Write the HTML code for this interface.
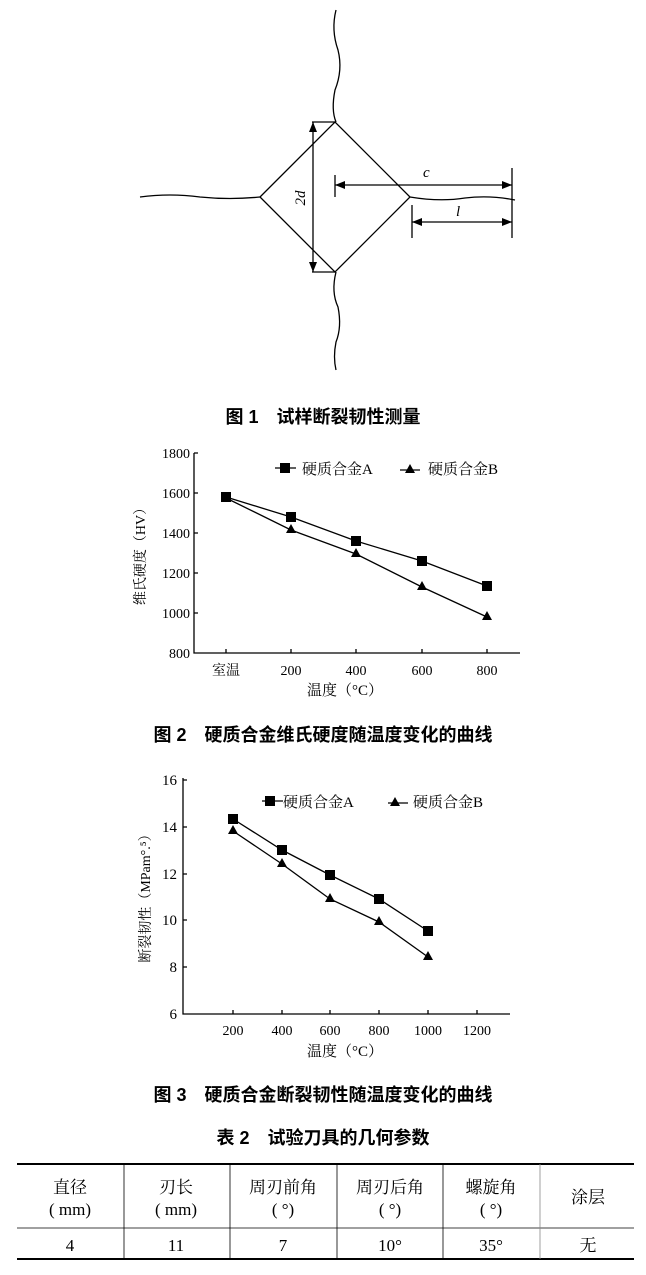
<!DOCTYPE html><html><head><meta charset="utf-8"><style>
body{margin:0;background:#fff;width:646px;height:1270px;overflow:hidden}
svg text{font-family:"Liberation Serif","Noto Serif CJK SC",serif;fill:#000}
.cap{font-family:"Liberation Sans","Noto Sans CJK SC",sans-serif;font-weight:bold;font-size:18px}
</style></head><body>
<svg width="646" height="1270" viewBox="0 0 646 1270" xmlns="http://www.w3.org/2000/svg">
<g fill="none" stroke="#000" stroke-width="1.3">
<path d="M336,10 q-5,20 2,40 q5,20 -3,40 q-4,20 1,32"/>
<path d="M336,272 q-5,20 2,35 q4,20 -2,35 q-3,15 0,28"/>
<path d="M140,197 q30,-4 60,0 q30,3 60,0"/>
<path d="M410,197 q30,5 55,1 q25,-3 50,2"/>
<path d="M260,197 L335,122 L410,197 L335,272 Z"/>
<path d="M312,122 H335 M312,272 H335 M313,122 V272"/>
<path d="M512,168 V238 M412,205 V238 M335,175 V197"/>
<path d="M335,185 H512 M412,222 H512"/>
</g>
<g fill="#000">
<path d="M313,122 l-4,10 h8z M313,272 l-4,-10 h8z M335,185 l10,-4 v8z M512,185 l-10,-4 v8z M412,222 l10,-4 v8z M512,222 l-10,-4 v8z"/>
</g>
<text x="305" y="198" font-size="15" font-style="italic" transform="rotate(-90 305 198)" text-anchor="middle">2d</text>
<text x="423" y="177" font-size="15" font-style="italic">c</text>
<text x="456" y="216" font-size="15" font-style="italic">l</text>
<text x="323" y="423" class="cap" text-anchor="middle">图 1　试样断裂韧性测量</text>

<!-- chart 2 -->
<g stroke="#000" stroke-width="1.3" fill="none">
<path d="M194,453 V653 H520"/>
<path d="M194,453 h4 M194,493 h4 M194,533 h4 M194,573 h4 M194,613 h4 M226,653 v-4 M291,653 v-4 M356,653 v-4 M422,653 v-4 M487,653 v-4"/>
<polyline points="226,497 291,517 356,541 422,561 487,586"/>
<polyline points="226,498 291,530 356,554 422,587 487,617"/>
<path d="M275,468 H296 M400,470 H420"/>
</g>
<g font-size="14" text-anchor="end"><text x="190" y="458">1800</text><text x="190" y="498">1600</text><text x="190" y="538">1400</text><text x="190" y="578">1200</text><text x="190" y="618">1000</text><text x="190" y="658">800</text></g>
<g font-size="14" text-anchor="middle"><text x="226" y="675">室温</text><text x="291" y="675">200</text><text x="356" y="675">400</text><text x="422" y="675">600</text><text x="487" y="675">800</text></g>
<text x="345" y="695" font-size="15" text-anchor="middle">温度（°C）</text>
<text x="145" y="553" font-size="14" text-anchor="middle" transform="rotate(-90 145 553)">维氏硬度（HV）</text>
<g fill="#000">
<rect x="221" y="492" width="10" height="10"/><rect x="286" y="512" width="10" height="10"/><rect x="351" y="536" width="10" height="10"/><rect x="417" y="556" width="10" height="10"/><rect x="482" y="581" width="10" height="10"/>
<path d="M226,492 l5,9 h-10z M291,524 l5,9 h-10z M356,548 l5,9 h-10z M422,581 l5,9 h-10z M487,611 l5,9 h-10z"/>
<rect x="280" y="463" width="10" height="10"/><path d="M410,464 l5,9 h-10z"/>
</g>
<text x="302" y="474" font-size="15">硬质合金A</text><text x="428" y="474" font-size="15">硬质合金B</text>
<text x="323" y="741" class="cap" text-anchor="middle">图 2　硬质合金维氏硬度随温度变化的曲线</text>

<!-- chart 3 -->
<g stroke="#000" stroke-width="1.3" fill="none">
<path d="M183,778 V1014 H510"/>
<path d="M183,780 h4 M183,827 h4 M183,874 h4 M183,920 h4 M183,967 h4 M233,1014 v-4 M282,1014 v-4 M330,1014 v-4 M379,1014 v-4 M428,1014 v-4 M477,1014 v-4"/>
<polyline points="233,819 282,850 330,875 379,899 428,931"/>
<polyline points="233,831 282,864 330,899 379,922 428,957"/>
<path d="M262,801 H283 M388,803 H408"/>
</g>
<g font-size="15" text-anchor="end"><text x="177" y="785">16</text><text x="177" y="832">14</text><text x="177" y="879">12</text><text x="177" y="925">10</text><text x="177" y="972">8</text><text x="177" y="1019">6</text></g>
<g font-size="14" text-anchor="middle"><text x="233" y="1035">200</text><text x="282" y="1035">400</text><text x="330" y="1035">600</text><text x="379" y="1035">800</text><text x="428" y="1035">1000</text><text x="477" y="1035">1200</text></g>
<text x="345" y="1056" font-size="15" text-anchor="middle">温度（°C）</text>
<text x="150" y="895" font-size="14" text-anchor="middle" transform="rotate(-90 150 895)">断裂韧性（MPam°.⁵）</text>
<g fill="#000">
<rect x="228" y="814" width="10" height="10"/><rect x="277" y="845" width="10" height="10"/><rect x="325" y="870" width="10" height="10"/><rect x="374" y="894" width="10" height="10"/><rect x="423" y="926" width="10" height="10"/>
<path d="M233,825 l5,9 h-10z M282,858 l5,9 h-10z M330,893 l5,9 h-10z M379,916 l5,9 h-10z M428,951 l5,9 h-10z"/>
<rect x="265" y="796" width="10" height="10"/><path d="M395,797 l5,9 h-10z"/>
</g>
<text x="283" y="807" font-size="15">硬质合金A</text><text x="413" y="807" font-size="15">硬质合金B</text>
<text x="323" y="1101" class="cap" text-anchor="middle">图 3　硬质合金断裂韧性随温度变化的曲线</text>

<!-- table -->
<text x="323" y="1144" class="cap" text-anchor="middle">表 2　试验刀具的几何参数</text>
<g stroke="#000" fill="none">
<path d="M17,1164 H634 M17,1259 H634" stroke-width="2"/>
<path d="M17,1228 H634" stroke-width="0.8"/>
<path d="M124,1164 V1259 M230,1164 V1259 M337,1164 V1259 M443,1164 V1259" stroke-width="0.8"/>
<path d="M540,1164 V1259" stroke-width="0.8" stroke="#888"/>
</g>
<g font-size="17" text-anchor="middle">
<text x="70" y="1193">直径</text><text x="70" y="1215">( mm)</text>
<text x="176" y="1193">刃长</text><text x="176" y="1215">( mm)</text>
<text x="283" y="1193">周刃前角</text><text x="283" y="1215">( °)</text>
<text x="390" y="1193">周刃后角</text><text x="390" y="1215">( °)</text>
<text x="491" y="1193">螺旋角</text><text x="491" y="1215">( °)</text>
<text x="588" y="1203">涂层</text>
<text x="70" y="1251">4</text><text x="176" y="1251">11</text><text x="283" y="1251">7</text><text x="390" y="1251">10°</text><text x="491" y="1251">35°</text><text x="588" y="1251">无</text>
</g>
</svg>
</body></html>
